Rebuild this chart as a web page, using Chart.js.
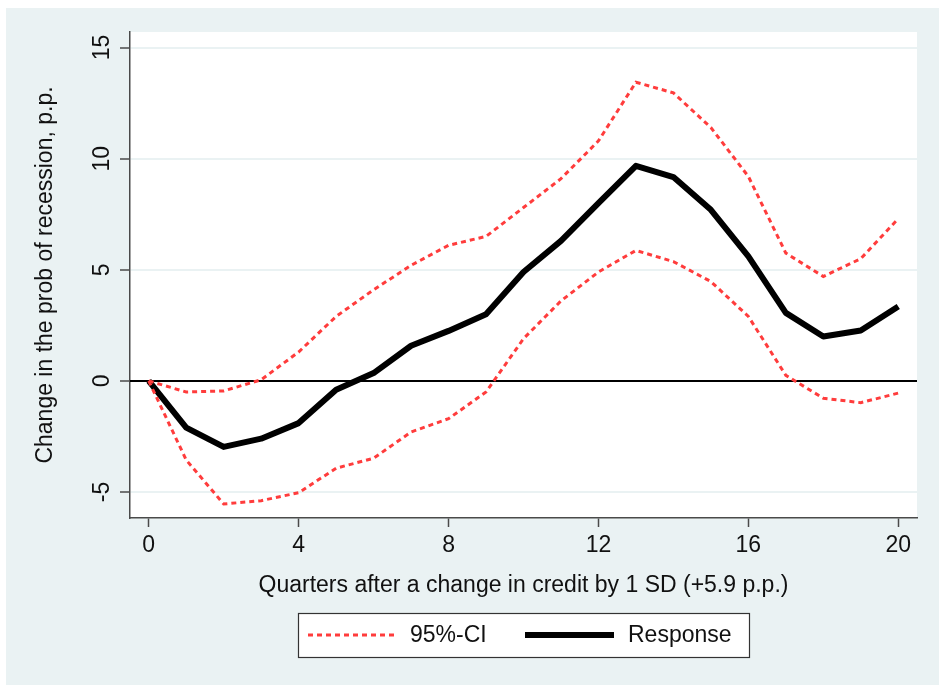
<!DOCTYPE html>
<html>
<head>
<meta charset="utf-8">
<script src="https://cdn.jsdelivr.net/npm/chart.js@4"></script>
<style>
  html, body { margin: 0; padding: 0; background: #ffffff; }
  #wrap { width: 939px; height: 685px; }
</style>
</head>
<body>
<div id="wrap"><canvas id="irfChart" width="939" height="685"></canvas></div>
<script>
"use strict"

// quarters after the shock
const quarters = [0, 1, 2, 3, 4, 5, 6, 7, 8, 9, 10, 11, 12, 13, 14, 15, 16, 17, 18, 19, 20];

// response of the recession probability, p.p.
const response = [0, -2.1, -2.97, -2.6, -1.9, -0.4, 0.35, 1.58, 2.25, 3.0, 4.9, 6.3, 8.0, 9.68, 9.17, 7.7, 5.6, 3.06, 2.0, 2.27, 3.35];

// 95% confidence band
const ciUpper = [0, -0.5, -0.45, 0.05, 1.3, 2.9, 4.1, 5.2, 6.1, 6.5, 7.8, 9.1, 10.8, 13.44, 12.96, 11.4, 9.2, 5.75, 4.7, 5.5, 7.3];
const ciLower = [0, -3.56, -5.54, -5.39, -5.03, -3.93, -3.48, -2.3, -1.7, -0.5, 1.9, 3.6, 4.9, 5.87, 5.37, 4.47, 2.9, 0.25, -0.78, -0.98, -0.55];

// tick labels
const xTicks = [0, 4, 8, 12, 16, 20];
const yTicks = [-5, 0, 5, 10, 15];

const ciLabel = "95%-CI";
const responseLabel = "Response";

const bgColor = "#eaf2f3";
const ciColor = "#ff3c3c";
const axisColor = "#4a4a4a";
const fontFamily = "'Liberation Sans', Arial, sans-serif";
const fontSize = 23;

//gör om till {x, y} punkter
function toPoints(values) {
    return quarters.map((q, i) => ({ x: q, y: values[i] }));
}

/**
 * Ritar bakgrund, vit plotyta och nollinjen.
 */
const backgroundPlugin = {
    id: "stataBackground",
    beforeDraw(chart) {
        const ctx = chart.ctx;
        const area = chart.chartArea;
        ctx.save();
        ctx.fillStyle = "#ffffff";
        ctx.fillRect(0, 0, chart.width, chart.height);
        ctx.fillStyle = bgColor;
        ctx.fillRect(6, 8, chart.width - 6, chart.height - 8);
        ctx.fillStyle = "#ffffff";
        ctx.fillRect(area.left, area.top, area.right - area.left, area.bottom - area.top);
        ctx.restore();
    },
    beforeDatasetsDraw(chart) {
        const ctx = chart.ctx;
        const area = chart.chartArea;
        const y0 = chart.scales.y.getPixelForValue(0);
        ctx.save();
        ctx.strokeStyle = "#000000";
        ctx.lineWidth = 2;
        ctx.beginPath();
        ctx.moveTo(area.left, y0);
        ctx.lineTo(area.right, y0);
        ctx.stroke();
        ctx.restore();
    }
};

/**
 * Ritar en Stata-liknande legend med ram under x-axelns titel.
 */
const legendPlugin = {
    id: "boxLegend",
    afterDraw(chart) {
        const ctx = chart.ctx;
        const area = chart.chartArea;
        const boxW = 451;
        const boxH = 44;
        const left = Math.round((area.left + area.right) / 2 - boxW / 2);
        const top = 613;
        const midY = top + boxH / 2;
        const ci = chart.data.datasets[0];
        const resp = chart.data.datasets[2];

        ctx.save();
        ctx.fillStyle = "#ffffff";
        ctx.fillRect(left, top, boxW, boxH);
        ctx.strokeStyle = "#333333";
        ctx.lineWidth = 1.2;
        ctx.strokeRect(left + 0.5, top + 0.5, boxW, boxH);

        ctx.strokeStyle = ci.borderColor;
        ctx.lineWidth = ci.borderWidth;
        ctx.setLineDash(ci.borderDash);
        ctx.beginPath();
        ctx.moveTo(left + 10, midY);
        ctx.lineTo(left + 97, midY);
        ctx.stroke();

        ctx.setLineDash([]);
        ctx.strokeStyle = resp.borderColor;
        ctx.lineWidth = resp.borderWidth;
        ctx.beginPath();
        ctx.moveTo(left + 227, midY);
        ctx.lineTo(left + 316, midY);
        ctx.stroke();

        ctx.fillStyle = "#111111";
        ctx.font = fontSize + "px " + fontFamily;
        ctx.textBaseline = "middle";
        ctx.textAlign = "left";
        ctx.fillText(ciLabel, left + 112, midY + 1);
        ctx.fillText(responseLabel, left + 330, midY + 1);
        ctx.restore();
    }
};

new Chart(document.getElementById("irfChart"), {
    type: "line",
    data: {
        datasets: [{
            label: ciLabel,
            data: toPoints(ciUpper),
            borderColor: ciColor,
            borderWidth: 3,
            borderDash: [5, 4],
            pointRadius: 0,
            tension: 0,
            fill: false
        }, {
            label: ciLabel + " lower",
            data: toPoints(ciLower),
            borderColor: ciColor,
            borderWidth: 3,
            borderDash: [5, 4],
            pointRadius: 0,
            tension: 0,
            fill: false
        }, {
            label: responseLabel,
            data: toPoints(response),
            borderColor: "#000000",
            borderWidth: 6,
            borderJoinStyle: "round",
            pointRadius: 0,
            tension: 0,
            fill: false
        }]
    },
    options: {
        responsive: false,
        animation: false,
        devicePixelRatio: 1,
        layout: {
            padding: { left: 8, right: 22, top: 32, bottom: 77 }
        },
        plugins: {
            legend: { display: false },
            tooltip: { enabled: false }
        },
        scales: {
            x: {
                type: "linear",
                min: -0.5,
                max: 20.5,
                afterBuildTicks: (scale) => { scale.ticks = xTicks.map(v => ({ value: v })); },
                afterFit: (scale) => { scale.height = 90; },
                grid: {
                    display: true,
                    drawOnChartArea: false,
                    drawTicks: true,
                    tickLength: 9,
                    tickColor: axisColor,
                    tickWidth: 1.5
                },
                border: { display: true, color: axisColor, width: 1.5 },
                ticks: {
                    color: "#111111",
                    padding: 5,
                    maxRotation: 0,
                    font: { family: fontFamily, size: fontSize }
                },
                title: {
                    display: true,
                    text: "Quarters after a change in credit by 1 SD (+5.9 p.p.)",
                    color: "#111111",
                    padding: { top: 0, bottom: 9 },
                    font: { family: fontFamily, size: fontSize }
                }
            },
            y: {
                type: "linear",
                min: -6.17,
                max: 15.7,
                afterBuildTicks: (scale) => { scale.ticks = yTicks.map(v => ({ value: v })); },
                afterFit: (scale) => { scale.width = 122; },
                grid: {
                    display: true,
                    color: bgColor,
                    lineWidth: 2,
                    drawTicks: true,
                    tickLength: 10,
                    tickColor: axisColor,
                    tickWidth: 1.5
                },
                border: { display: true, color: axisColor, width: 1.5 },
                ticks: {
                    color: "#111111",
                    padding: 5,
                    minRotation: 90,
                    maxRotation: 90,
                    crossAlign: "center",
                    font: { family: fontFamily, size: fontSize }
                },
                title: {
                    display: true,
                    text: "Change in the prob of recession, p.p.",
                    color: "#111111",
                    padding: { top: 24, bottom: 0 },
                    font: { family: fontFamily, size: fontSize }
                }
            }
        }
    },
    plugins: [backgroundPlugin, legendPlugin]
});
</script>
</body>
</html>
